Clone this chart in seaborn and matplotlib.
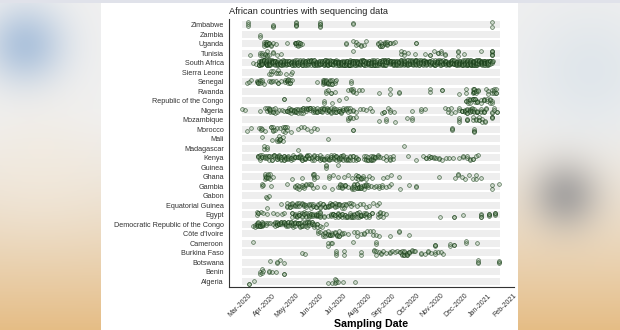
import numpy as np
import pandas as pd
import matplotlib
matplotlib.use("Agg")
import matplotlib.pyplot as plt
import matplotlib.dates as mdates
import seaborn as sns

# ---------------- data (days after BASE_DATE * number of samples) ----------------
BASE_DATE = "2020-03-01"
TITLE = "African countries with sequencing data"
XLABEL = "Sampling Date"

countries = ["Zimbabwe", "Zambia", "Uganda", "Tunisia", "South Africa", "Sierra Leone",
             "Senegal", "Rwanda", "Republic of the Congo", "Nigeria", "Mozambique",
             "Morocco", "Mali", "Madagascar", "Kenya", "Guinea", "Ghana", "Gambia",
             "Gabon", "Equatorial Guinea", "Egypt", "Democratic Republic of the Congo",
             "Côte d'Ivoire", "Cameroon", "Burkina Faso", "Botswana", "Benin", "Algeria"]

zimbabwe = "0*3 31*3 61*5 92*5 134*2 311*2"
zambia = "15*2"
uganda = ("20*3 22*3 24*4 26*3 29*2 32*1 35*1 50*1 59*2 61*3 63*4 66*3 69*1 125*2 134*1 137*2 "
          "140*1 143*2 147*1 150*1 165*2 168*3 171*3 174*3 177*3 180*2 184*1 187*1 214*2")
tunisia = ("2*1 15*2 18*2 21*2 24*3 27*1 31*2 36*1 42*1 134*1 195*2 198*2 203*1 212*1 225*1 "
           "232*2 237*1 242*2 246*2 250*2 267*3 275*1 297*1 310*6")
south_africa = ("6*1 10*1 14*5 16*6 18*6 20*6 22*6 24*6 26*6 28*6 30*6 32*6 34*6 36*5 38*6 40*5 "
                "42*4 44*4 46*5 48*4 50*4 52*5 54*4 56*4 58*5 60*4 62*5 64*4 66*4 68*5 70*4 72*4 "
                "74*5 76*4 78*4 80*5 82*4 84*5 86*4 88*4 90*5 92*4 94*5 96*4 98*5 100*6 102*6 "
                "104*6 106*6 108*6 110*6 112*6 114*6 116*6 118*6 120*6 122*6 124*6 126*6 128*6 "
                "130*6 132*6 134*6 136*6 138*6 140*6 142*5 144*5 146*6 148*5 150*5 152*5 154*6 "
                "156*5 158*5 160*6 162*5 164*5 166*5 168*5 170*5 172*5 174*6 176*5 178*5 180*5 "
                "182*4 184*5 186*5 188*4 190*5 192*5 194*5 196*4 198*5 200*5 202*4 204*5 206*5 "
                "208*4 210*5 212*5 214*5 216*4 218*5 220*5 222*4 224*5 226*5 228*4 230*5 232*5 "
                "234*5 236*4 238*5 240*5 242*4 244*5 246*5 248*4 250*5 252*5 254*5 256*5 258*5 "
                "260*5 262*6 264*5 266*5 268*5 270*5 272*6 274*5 276*5 278*6 280*5 282*6 284*6 "
                "286*6 288*6 290*6 292*6 294*6 296*6 298*6 300*6 302*6 304*6 306*6 308*5 310*3 312*1")
sierra_leone = "27*1 29*2 32*1 35*1 38*2 41*1 48*1 54*1 56*1"
senegal = ("-1*1 1*1 4*1 11*2 13*3 15*3 17*2 20*1 26*1 29*2 32*1 35*1 38*2 42*1 47*2 49*3 51*3 "
           "53*3 56*1 87*1 95*3 97*4 99*4 101*4 104*3 107*3 110*2 112*1 131*2")
rwanda = ("99*2 102*1 105*2 110*1 127*1 131*2 134*3 137*1 141*1 145*1 167*1 180*2 192*2 232*2 "
          "247*2 268*1 277*2 286*3 288*4 290*3 293*2 303*1 306*2 310*2 313*3 316*3")
rep_congo = ("45*2 76*1 97*2 107*1 115*1 124*1 277*2 280*3 283*3 286*3 289*3 292*3 296*2 300*3 "
             "304*2 308*3 311*2")
nigeria = ("-8*1 -4*1 15*1 21*1 24*2 26*3 28*4 31*3 34*2 36*1 39*1 43*1 46*1 49*3 52*3 55*4 58*4 "
           "61*4 64*3 67*3 70*4 73*3 76*3 79*4 82*3 85*3 88*4 91*3 94*4 97*3 100*4 103*4 106*3 "
           "109*4 112*3 115*4 118*3 121*3 124*3 127*2 130*2 134*2 137*1 142*1 146*1 150*1 155*1 "
           "158*1 170*1 173*2 178*1 181*2 186*1 208*1 220*2 225*1 250*1 254*2 258*2 263*1 268*2 "
           "272*3 276*4 279*4 282*4 285*4 288*3 292*4 296*3 300*3 303*2 311*2 313*2 317*2")
mozambique = ("127*2 130*2 133*1 137*1 167*1 176*2 187*1 202*1 208*2 268*3 278*3 286*2 290*2 "
              "294*3 298*2 301*2 311*3")
morocco = ("-1*1 4*1 14*1 16*2 18*1 21*1 29*2 31*3 34*1 36*1 41*1 44*2 47*3 50*2 54*1 64*1 67*1 "
           "71*1 75*1 80*1 84*1 87*1 134*2 259*3 288*4")
mali = "17*1 30*1 36*2 39*3 41*3 44*2 101*1"
madagascar = "20*2 24*2 64*1 199*1"
kenya = ("12*3 15*3 18*3 21*3 24*2 27*3 30*3 33*3 36*4 39*4 42*4 45*4 48*4 51*4 54*3 57*3 60*3 "
         "63*3 66*4 69*4 72*4 75*4 78*3 81*3 84*3 87*3 91*3 94*3 97*3 100*3 103*3 106*4 109*4 "
         "112*4 115*4 118*4 121*3 124*3 127*3 130*3 134*3 137*3 140*2 147*2 150*3 153*3 156*4 "
         "159*4 162*3 165*3 168*1 172*1 175*2 180*3 184*2 204*1 214*1 223*1 227*2 230*2 233*2 "
         "236*2 239*1 243*2 247*1 252*1 256*1 261*1 269*1 274*2 278*2 282*2 286*2 290*1 293*1")
guinea = "99*3 114*1"
ghana = ("21*3 23*3 25*4 28*2 31*1 56*1 68*1 82*2 84*3 87*1 103*2 108*1 114*1 122*1 127*1 132*1 "
         "137*2 140*3 143*3 146*2 150*1 154*1 157*1 172*1 177*1 182*1 192*1 243*1 263*1 267*2 "
         "272*1 276*1 281*1 286*1 290*2 296*1")
gambia = ("17*2 19*1 29*1 50*1 59*2 62*2 65*2 68*2 71*2 74*2 77*1 80*2 83*1 87*1 97*1 107*1 "
          "114*1 117*3 120*3 123*3 127*1 132*3 135*4 138*4 141*4 144*4 147*3 150*3 153*2 156*1 "
          "160*1 163*1 166*2 170*2 175*1 179*1 182*1 193*1 205*1 214*2 310*2 320*1")
gabon = "22*1 24*1 27*1"
equatorial_guinea = ("24*1 42*1 50*3 53*3 56*3 59*2 62*3 65*2 68*2 71*3 74*2 77*2 80*2 83*3 86*2 "
                     "89*2 92*3 95*2 98*3 101*3 104*3 107*3 110*3 113*2 116*3 119*2 122*2 125*2 "
                     "128*1 131*2 134*1 138*1 142*1 146*1 150*1 154*1 159*1 164*1 167*1")
egypt = ("11*2 13*2 16*1 19*1 24*1 31*1 37*1 43*1 46*1 56*3 59*3 62*3 65*4 68*3 71*3 74*3 77*4 "
         "80*3 83*3 86*4 89*4 92*5 97*2 101*1 105*3 108*3 111*3 114*4 117*3 120*3 123*3 126*3 "
         "129*3 132*4 135*3 138*3 141*3 144*4 147*3 150*3 154*3 157*2 165*2 168*3 172*2 176*1 "
         "244*1 262*2 274*1 297*4 307*4 314*4")
drc = ("6*1 9*2 11*3 13*4 15*4 17*4 19*3 22*2 25*1 28*1 31*1 34*3 37*4 39*4 42*4 45*4 48*4 51*4 "
       "54*4 57*4 60*4 63*4 66*4 69*4 72*3 75*4 78*4 81*4 84*3 87*3 91*1 94*1 99*1")
cote_divoire = ("89*2 92*1 95*2 98*3 101*3 104*3 107*3 110*2 113*3 116*3 119*2 122*1 127*1 135*1 "
                "139*2 143*1 147*2 151*1 155*1 159*2 163*1 167*1 180*1 192*2 205*1")
cameroon = "6*1 102*2 105*1 107*1 134*1 163*2 238*3 257*2 262*2 277*2 291*1"
burkina_faso = ("69*1 72*1 112*3 122*2 143*2 160*2 163*2 166*1 169*2 172*1 176*1 180*2 183*1 "
                "187*1 190*1 193*2 196*3 199*4 202*4 205*3 208*2 211*1 213*1 220*2 225*1 229*2 "
                "233*1 238*2 242*1 246*1 248*1")
botswana = "28*1 36*2 41*1 45*1 293*3 320*3"
benin = "15*2 17*2 19*1 26*2 30*1 35*1 45*2"
algeria = "1*2 7*1 101*1 107*1 110*2 112*2 114*1 121*1 136*1"

series = [zimbabwe, zambia, uganda, tunisia, south_africa, sierra_leone, senegal, rwanda,
          rep_congo, nigeria, mozambique, morocco, mali, madagascar, kenya, guinea, ghana,
          gambia, gabon, equatorial_guinea, egypt, drc, cote_divoire, cameroon, burkina_faso,
          botswana, benin, algeria]

# ---------------- build table ----------------
base = pd.Timestamp(BASE_DATE)
rows = []
for name, s in zip(countries, series):
    for tok in s.split():
        d, c = tok.split("*")
        dt = base + pd.Timedelta(days=int(d))
        for _ in range(int(c)):
            rows.append((name, dt))
df = pd.DataFrame(rows, columns=["country", "date"])
df["x"] = mdates.date2num(df["date"].dt.to_pydatetime())

# ---------------- figure ----------------
sns.set_theme(style="white")
plt.rcParams["font.family"] = ["Liberation Sans", "DejaVu Sans"]

W, H = 620, 330
fig = plt.figure(figsize=(W / 100, H / 100), dpi=100)

# blurred screenshot-like background with white panel
yy, xx = np.mgrid[0:H, 0:W].astype(float)
t = np.clip((yy - 110) / 220, 0, 1) ** 1.4
top = np.array([0.94, 0.94, 0.94])
bot = np.array([0.90, 0.74, 0.52])
img = top[None, None, :] * (1 - t[..., None]) + bot[None, None, :] * t[..., None]

def blob(cx, cy, sig, col, w):
    global img
    g = w * np.exp(-(((xx - cx) ** 2 + (yy - cy) ** 2) / (2 * sig ** 2)))
    img = img * (1 - g[..., None]) + np.array(col)[None, None, :] * g[..., None]

blob(25, 45, 28, (0.60, 0.71, 0.84), 0.75)
blob(590, 70, 45, (0.84, 0.88, 0.91), 0.6)
blob(565, 195, 24, (0.55, 0.55, 0.56), 0.7)
blob(40, 160, 45, (0.96, 0.92, 0.86), 0.4)
img[0:3, :, :] = np.array([0.88, 0.89, 0.92])
img[3:, 101:518, :] = 1.0
ax_bg = fig.add_axes([0, 0, 1, 1])
ax_bg.imshow(np.clip(img, 0, 1), aspect="auto", interpolation="bilinear")
ax_bg.axis("off")
ax_bg.set_zorder(-10)

# main plot
ax = fig.add_axes([229 / W, 1 - 287 / H, (514 - 229) / W, (287 - 19) / H])
ax.set_facecolor("white")
np.random.seed(7)
sns.stripplot(data=df, x="x", y="country", order=countries, orient="h", jitter=0.28,
              size=2.7, linewidth=0.5, color="#9cc39a", edgecolor="#1f4a1f", ax=ax, zorder=3)
for coll in ax.collections:
    coll.set_facecolor((0.52, 0.66, 0.50, 0.32))
    coll.set_edgecolor((0.09, 0.24, 0.09, 0.72))

# row bands spanning the data range
xmin, xmax = df["x"].min(), df["x"].max()
ax.barh(np.arange(len(countries)), width=(xmax - xmin) + 1.0, left=xmin - 0.5, height=0.74,
        color="#eeeeee", zorder=0.5, linewidth=0)

ax.set_ylim(len(countries) - 1 + 0.6, -0.6)
ax.set_xlim(mdates.date2num(base - pd.Timedelta(days=24.5)),
            mdates.date2num(base + pd.Timedelta(days=338.5)))
ax.xaxis.set_major_locator(mdates.MonthLocator())
ax.xaxis.set_major_formatter(mdates.DateFormatter("%b-%Y"))

for sp in ["top", "right"]:
    ax.spines[sp].set_visible(False)
for sp in ["left", "bottom"]:
    ax.spines[sp].set_color("#333333")
    ax.spines[sp].set_linewidth(0.8)

ax.tick_params(axis="both", which="major", length=2.5, width=0.6, color="#333333",
               labelcolor="#333333", pad=1.2)
ax.tick_params(axis="y", labelsize=5.2)
ax.tick_params(axis="x", labelsize=5.0)
for lab in ax.get_xticklabels():
    lab.set_rotation(45)
    lab.set_ha("right")
    lab.set_rotation_mode("anchor")

ax.set_ylabel("")
ax.set_xlabel(XLABEL, fontsize=7.7, fontweight="bold", color="black")
ax.xaxis.set_label_coords(0.5, -0.118)
ax.set_title(TITLE, loc="left", fontsize=6.7, color="#222222", pad=3.5)

fig.savefig("out.png", dpi=100)
